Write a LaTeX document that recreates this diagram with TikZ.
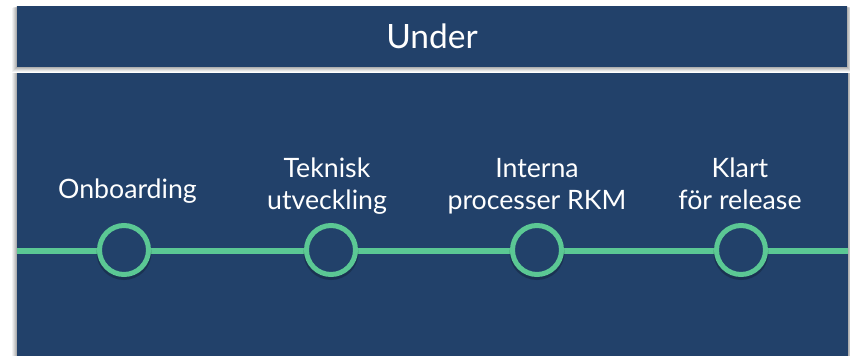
\documentclass[tikz,border=0pt]{standalone}
\usepackage{fontspec}
\setmainfont{Lato}
\definecolor{navy}{HTML}{22416A}
\definecolor{mint}{HTML}{5BC894}
\begin{document}
\begin{tikzpicture}[x=1pt,y=-1pt,
  panelbox/.style={fill=navy,draw=none,inner sep=0pt,outer sep=0pt},
  milestone/.style={circle,fill=navy,draw=mint,line width=5pt,minimum size=49pt,inner sep=0pt},
  steplabel/.style={text=white,font=\fontsize{26.7}{32.5}\selectfont,align=center,anchor=south,inner sep=0pt,text depth=6pt},
  track/.style={draw=mint,line width=6pt}]
\useasboundingbox (0,0) rectangle (850,356);
\fill[white] (0,0) rectangle (850,356);

% soft shadows behind the two panels
\foreach \d/\o in {5/0.05,4/0.06,3/0.07,2/0.08,1/0.09}{
  \fill[black,opacity=\o] (17-\d,6+\d*0.3) rectangle (847+\d,67+\d);
  \fill[black,opacity=\o] (17-\d,73) rectangle (848+\d,356);
}

% header bar
\node[panelbox,minimum width=830pt,minimum height=61pt,anchor=north west] (header) at (17,6) {};
\node[text=white,font=\fontsize{33.5}{40}\selectfont,inner sep=0pt] (title) at (header.center) {Under};

% main panel
\node[panelbox,minimum width=831pt,minimum height=283pt,anchor=north west] (panel) at (17,73) {};

% timeline track
\coordinate (tstart) at (17,251);
\coordinate (tend) at (848,251);
\draw[track] (tstart) -- (tend);

% milestones
\foreach \n/\x in {1/124,2/331,3/537,4/741}{
  \fill[black,opacity=0.22] (\x,252.5) circle (27.5pt);
  \node[milestone] (c\n) at (\x,250) {};
}

% labels above the milestones
\node[steplabel] (l1) at (127.5,205) {Onboarding};
\node[steplabel] (l2) at (327,216) {Teknisk\\utveckling};
\node[steplabel] (l3) at (537,216) {Interna\\processer RKM};
\node[steplabel] (l4) at (740,216) {Klart\\för release};
\end{tikzpicture}
\end{document}
